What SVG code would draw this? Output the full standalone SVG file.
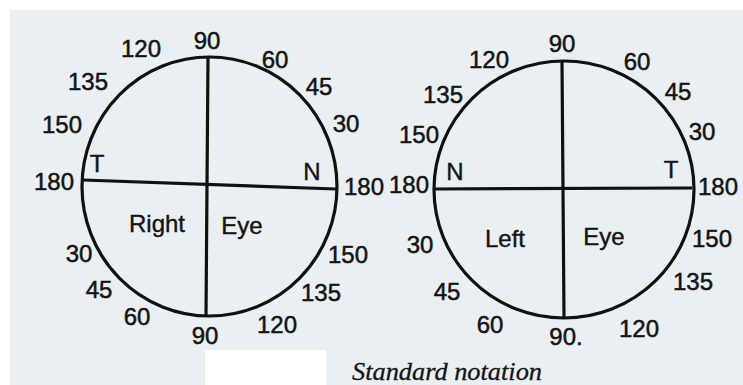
<svg xmlns="http://www.w3.org/2000/svg" width="743" height="385" viewBox="0 0 743 385">
<style>
.bg{fill:#e9eff2}
.ring{fill:none;stroke:#111;stroke-width:3.2}
.axis{stroke:#111;stroke-width:3.2;fill:none}
.n{font-family:"Liberation Sans",Arial,sans-serif;font-size:24px;fill:#141414;stroke:#141414;stroke-width:0.5;text-anchor:middle}
.w{font-family:"Liberation Sans",Arial,sans-serif;font-size:24px;fill:#141414;stroke:#141414;stroke-width:0.4;text-anchor:middle}
.cap{font-family:"Liberation Serif","Times New Roman",serif;font-style:italic;font-size:25px;fill:#141414;stroke:#141414;stroke-width:0.3}
</style>
<rect x="0" y="0" width="743" height="385" fill="#ffffff"/>
<rect class="bg" x="10" y="10" width="733" height="375"/>
<rect x="205" y="350" width="121" height="35" fill="#ffffff"/>

<g id="right-eye">
  <ellipse class="ring" cx="209.5" cy="186.5" rx="127.5" ry="129.5"/>
  <line class="axis" x1="83" y1="180" x2="336" y2="189"/>
  <line class="axis" x1="208" y1="57" x2="206" y2="316"/>
  <text class="n" x="207" y="49">90</text>
  <text class="n" x="141" y="57">120</text>
  <text class="n" x="275" y="68">60</text>
  <text class="n" x="88" y="90">135</text>
  <text class="n" x="319" y="95">45</text>
  <text class="n" x="62" y="133">150</text>
  <text class="n" x="346" y="132">30</text>
  <text class="w" x="97" y="172">T</text>
  <text class="n" x="54" y="190">180</text>
  <text class="w" x="312" y="180">N</text>
  <text class="n" x="364" y="195">180</text>
  <text class="w" x="157" y="232">Right</text>
  <text class="w" x="242" y="234">Eye</text>
  <text class="n" x="79" y="262">30</text>
  <text class="n" x="348" y="263">150</text>
  <text class="n" x="99" y="298">45</text>
  <text class="n" x="321" y="301">135</text>
  <text class="n" x="137" y="325">60</text>
  <text class="n" x="277" y="333">120</text>
  <text class="n" x="205" y="344">90</text>
</g>

<g id="left-eye">
  <ellipse class="ring" cx="564" cy="189.5" rx="130" ry="128.5"/>
  <line class="axis" x1="435" y1="189" x2="692" y2="188"/>
  <line class="axis" x1="562" y1="62" x2="564" y2="318"/>
  <text class="n" x="562" y="52">90</text>
  <text class="n" x="489" y="68">120</text>
  <text class="n" x="637" y="70">60</text>
  <text class="n" x="443" y="103">135</text>
  <text class="n" x="678" y="100">45</text>
  <text class="n" x="419" y="143">150</text>
  <text class="n" x="702" y="140">30</text>
  <text class="w" x="455" y="180">N</text>
  <text class="w" x="671" y="178">T</text>
  <text class="n" x="409" y="193">180</text>
  <text class="n" x="718" y="195">180</text>
  <text class="w" x="505" y="247">Left</text>
  <text class="w" x="604" y="245">Eye</text>
  <text class="n" x="420" y="253">30</text>
  <text class="n" x="712" y="247">150</text>
  <text class="n" x="447" y="300">45</text>
  <text class="n" x="693" y="290">135</text>
  <text class="n" x="490" y="333">60</text>
  <text class="n" x="566" y="345">90.</text>
  <text class="n" x="639" y="337">120</text>
</g>

<g id="caption">
  <text class="cap" x="352" y="380" textLength="190" lengthAdjust="spacingAndGlyphs">Standard notation</text>
</g>
</svg>
